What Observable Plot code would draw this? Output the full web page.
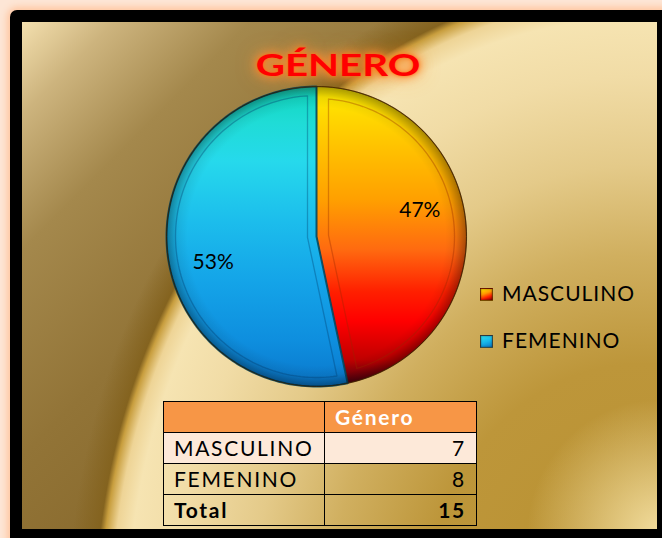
<!DOCTYPE html>
<html><head><meta charset="utf-8">
<script src="https://cdn.jsdelivr.net/npm/d3@7"></script>
<script src="https://cdn.jsdelivr.net/npm/@observablehq/plot@0.6"></script>
<style>
html,body{margin:0;padding:0;}
body{width:662px;height:538px;overflow:hidden;position:relative;background:#fde6d6;font-family:Lato,"Open Sans",sans-serif;}
#frame{position:absolute;left:10px;top:10px;width:680px;height:560px;background:#000;border-radius:7px;box-shadow:0 0 7px 3px #ffc6a0;}
#bg{position:absolute;left:22px;top:22px;width:635px;height:507px;
background:
 radial-gradient(circle 135px at 640px 512px, rgba(246,226,165,0.95), rgba(246,226,165,0) 100%),
 radial-gradient(ellipse 545px 640px at 618px 598px, #b8902e 0%, #bd963a 40%, #d0af5f 57%, #e4ca89 71%, #f1dca6 85%, #f6e4b2 94%, #eed496 97%, #c89e3e 99%, #84631f 100%, rgba(132,99,31,0) 105%),
 linear-gradient(135deg, #f3dfae 0%, #cdb47e 8%, #a4884c 20%, #927437 38%, #86672a 60%, #84652a 100%);}
#chart{position:absolute;left:0;top:0;}
#title{position:absolute;left:238px;top:44px;width:200px;text-align:center;color:#ff0000;font-weight:bold;font-size:31px;line-height:40px;
 transform:scaleX(1.3);transform-origin:100px 0;
 text-shadow:0 0 3px #ff6a10,0 0 7px #ff8a30,0 0 12px #ff9a40,0 0 18px rgba(255,150,60,0.8);}
.leg{position:absolute;left:480px;font-size:21px;line-height:24px;color:#000;white-space:nowrap;letter-spacing:1px;}
.sw{display:inline-block;width:13px;height:13px;margin-right:9px;vertical-align:0px;box-sizing:border-box;border:1px solid rgba(60,20,0,0.7);box-shadow:inset 0 0 2px rgba(0,0,0,0.5);}
#tbl{position:absolute;left:163px;top:401px;border-collapse:collapse;font-size:21px;letter-spacing:1.7px;color:#000;}
#tbl td{border:1.6px solid #000;height:30px;padding:0 10px;line-height:30px;}
#tbl td.c1{width:140px;}
#tbl td.c2{width:131px;}
</style></head><body>
<div id="frame"></div><div id="bg"></div><div id="chart"></div><div id="title"></div><div id="legend"></div><table id="tbl"></table>
<script>
const title = "GÉNERO";
const categories = ["MASCULINO", "FEMENINO"];
const values = [7, 8];
const tableHeader = "Género";
const totalLabel = "Total";

const total = d3.sum(values);
const fmt = d3.format(".0%");
const gradIds = ["gradM", "gradF"];
const arcs = d3.pie().sort(null).value(d => d)(values);

function pt(a, r) { return [r * Math.sin(a), -r * Math.cos(a)]; }
function slice(a0, a1, r, inset) {
  const th = a1 - a0, mid = (a0 + a1) / 2;
  const apex = inset ? pt(mid, inset / Math.sin(th / 2)) : [0, 0];
  const R = r - (inset || 0);
  const da = inset ? Math.asin(inset / R) : 0;
  const b0 = a0 + da, b1 = a1 - da;
  const n = Math.ceil((b1 - b0) / (2 * Math.PI) * 240) + 2;
  const ring = [apex];
  for (let i = 0; i <= n; i++) ring.push(pt(b0 + (b1 - b0) * i / n, R));
  ring.push(apex);
  return ring;
}
const slices = arcs.map((a, i) => ({
  type: "Feature",
  properties: {name: categories[i], value: values[i], i},
  geometry: {type: "Polygon", coordinates: [slice(a.startAngle, a.endAngle, 1, 0)]}
}));
const insets = arcs.map((a, i) => ({
  type: "Feature",
  properties: {i},
  geometry: {type: "Polygon", coordinates: [slice(a.startAngle, a.endAngle, 1, i === 0 ? 0.08 : 0.06)]}
}));
const circle = {type: "Polygon", coordinates: [d3.range(0, 361, 2).map(d => pt(d * Math.PI / 180, 1))]};
const labels = arcs.map((a, i) => {
  const m = (a.startAngle + a.endAngle) / 2 - 0.14;
  const [x, y] = pt(m, 0.71);
  return {x, y, text: fmt(values[i] / total)};
});

const strokes = ["rgba(120,50,0,0.55)", "rgba(0,70,95,0.85)"];
const plot = Plot.plot({
  width: 662, height: 538,
  marginLeft: 166, marginRight: 196, marginTop: 86, marginBottom: 152,
  style: {background: "transparent", overflow: "visible"},
  projection: {type: "identity", domain: circle},
  marks: [
    ...slices.map((s, i) => Plot.geo([s], {fill: `url(#${gradIds[i]})`, stroke: strokes[i], strokeWidth: i ? 2 : 1.2})),
    Plot.geo([circle], {fill: "url(#rim)"}),
    ...insets.map((s, i) => Plot.geo([s], {fill: "none", stroke: i ? "rgba(0,60,110,0.35)" : "rgba(150,40,0,0.35)", strokeWidth: 1.3})),
    Plot.geo([circle], {fill: "none", stroke: "rgba(50,30,0,0.75)", strokeWidth: 1}),
    Plot.text(labels, {x: "x", y: "y", text: "text", fontSize: 21, fill: "#000", fontFamily: "Lato"})
  ]
});
document.getElementById("chart").appendChild(plot);

// gradients
const svg = d3.select(plot);
const defs = svg.insert("defs", ":first-child");
function lin(id, stops) {
  const g = defs.append("linearGradient").attr("id", id).attr("x1", 0).attr("y1", 0).attr("x2", 0).attr("y2", 1);
  stops.forEach(([o, c]) => g.append("stop").attr("offset", o).attr("stop-color", c));
}
lin("gradM", [[0, "#fff000"], [0.1, "#ffd800"], [0.22, "#ffbf00"], [0.38, "#ffa000"], [0.55, "#ff6a10"], [0.69, "#ff2000"], [0.79, "#ff0000"], [0.92, "#c00000"], [1, "#5a0010"]]);
lin("gradF", [[0, "#10d6bc"], [0.12, "#1fdcd6"], [0.25, "#26d9ec"], [0.45, "#1cbdec"], [0.65, "#14a4e8"], [0.85, "#0e8ede"], [1, "#0a78cc"]]);
const rim = defs.append("radialGradient").attr("id", "rim");
[[0, "#000", 0], [0.86, "#000", 0], [0.93, "#000", 0.07], [1, "#000", 0.35]]
  .forEach(([o, c, op]) => rim.append("stop").attr("offset", o).attr("stop-color", c).attr("stop-opacity", op));

// title
document.getElementById("title").textContent = title;

// legend
const swatchBg = [
  "linear-gradient(160deg,#ffe600 0%,#ff9a00 40%,#ff2000 70%,#8a0000 100%)",
  "linear-gradient(160deg,#30e0f0 0%,#18b8ea 50%,#0a78c8 100%)"
];
const legTops = [281, 328];
const leg = d3.select("#legend");
categories.forEach((c, i) => {
  const d = leg.append("div").attr("class", "leg").style("top", legTops[i] + "px");
  d.append("span").attr("class", "sw").style("background", swatchBg[i]);
  d.append("span").text(c);
});

// table
const rows = [["", tableHeader], ...categories.map((c, i) => [c, values[i]]), [totalLabel, total]];
const tbody = d3.select("#tbl").append("tbody");
rows.forEach((r, ri) => {
  const tr = tbody.append("tr");
  const bgc = ri === 0 ? "#f79646" : ri === 1 ? "#fde9d9" : "transparent";
  tr.append("td").attr("class", "c1").style("background", bgc).style("font-weight", ri === rows.length - 1 ? "bold" : "normal").text(r[0]);
  tr.append("td").attr("class", "c2").style("background", bgc)
    .style("text-align", ri === 0 ? "left" : "right")
    .style("color", ri === 0 ? "#fff" : "#000")
    .style("font-weight", ri === 0 || ri === rows.length - 1 ? "bold" : "normal")
    .text(r[1]);
});
</script>
</body></html>
